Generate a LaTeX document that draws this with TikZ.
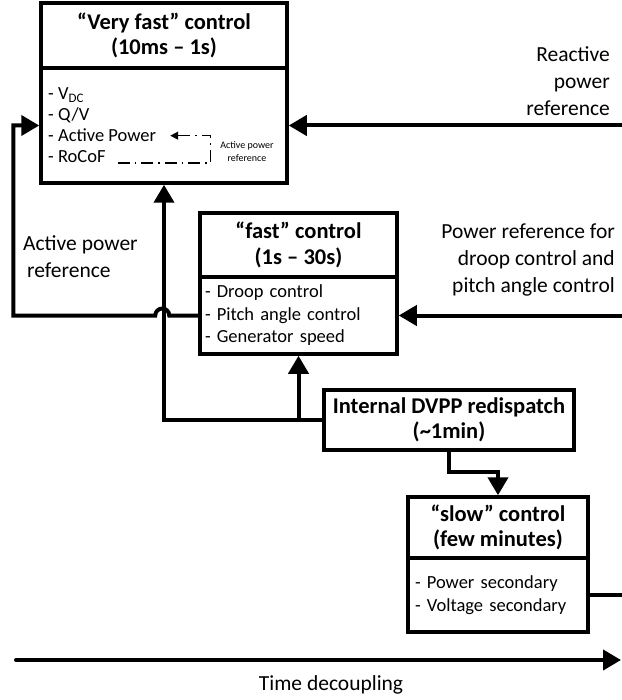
\documentclass[tikz,border=0pt]{standalone}
\usepackage{fontspec}
\setmainfont{Carlito}
\usetikzlibrary{arrows.meta,positioning}

\tikzstyle{boxframe} = [draw,line width=3.5pt,inner sep=0pt]
\tikzstyle{titlebox} = [boxframe,font=\fontsize{22.5}{25.5}\selectfont\bfseries,align=center]
\tikzstyle{listbox} = [boxframe,font=\fontsize{18.5}{22.5}\selectfont,align=left]
\tikzstyle{bullet} = [font=\fontsize{18.5}{22.5}\selectfont,inner sep=0pt,anchor=base west]
\tikzstyle{sidetext} = [font=\fontsize{21.5}{27}\selectfont,inner sep=0pt]
\tikzstyle{edge} = [draw,line width=4pt]
\tikzstyle{arrowdecorate} = [-{Triangle[length=18pt,width=20pt]},line width=4pt]
\tikzstyle{dashdecorate} = [-{Triangle[length=8pt,width=8pt]},line width=1.4pt,dash pattern=on 12pt off 5pt on 1.5pt off 5pt]

\begin{document}
\begin{tikzpicture}[x=1pt,y=-1pt]
      \useasboundingbox (0,0) rectangle (621,700);
      %boxes
      \node[titlebox, minimum width=246pt, minimum height=65pt] (vfTitle) at (164,35.5) {“Very fast” control\\(10ms – 1s)};
      \node[boxframe, minimum width=246pt, minimum height=115pt] (vfBody) at (164,125.5) {};
      \node[titlebox, minimum width=197pt, minimum height=64pt] (fastTitle) at (298.5,245) {“fast” control\\(1s – 30s)};
      \node[listbox, minimum height=77pt, inner xsep=5pt, text width=187pt] (fastBody) at (298.5,315.5) {- Droop control\\- Pitch angle control\\- Generator speed};
      \node[titlebox, minimum width=250pt, minimum height=60pt] (dvpp) at (449,420) {Internal DVPP redispatch\\(\char`\~1min)};
      \node[titlebox, minimum width=180pt, minimum height=61pt] (slowTitle) at (498,527.5) {“slow” control\\(few minutes)};
      \node[listbox, minimum height=74pt, inner xsep=7pt, text width=166pt] (slowBody) at (498,595) {- Power secondary\\- Voltage secondary};

      %very fast list
      \node[bullet] (vdc) at (48,100) {- V\textsubscript{DC}};
      \node[bullet] (qv) at (48,121) {- Q/V};
      \node[bullet] (ap) at (48,142) {- Active Power};
      \node[bullet] (rocof) at (48,163) {- RoCoF};
      \node[font=\fontsize{10}{13}\selectfont, align=center, inner sep=0pt] (apRef) at (247,152) {Active power\\reference};
      \draw[dashdecorate] ([xshift=12pt]rocof.base east) -- ++(93,0) |- ([xshift=14pt]ap.east);

      %side texts
      \node[sidetext, align=right, anchor=east] (reactRef) at (610,81.5) {Reactive\\power\\reference};
      \node[sidetext, align=right, anchor=east] (powerRef) at (615,260) {Power reference for\\droop control and\\pitch angle control};
      \node[sidetext, align=left, anchor=west] (activeRef) at (23,256.5) {Active power\\\hspace*{4pt}reference};
      \node[sidetext] (timeLbl) at (331,685) {Time decoupling};

      %free ends at the right rim
      \coordinate (rimReact) at (623,125.5);
      \coordinate (rimPower) at (623,315.5);
      \coordinate (rimSlow) at (623,595);
      \coordinate (timeStart) at (16,660);
      \coordinate (timeEnd) at (621,660);

      %edges
      \draw[arrowdecorate] (rimReact) -- (vfBody.east);
      \draw[arrowdecorate] (rimPower) -- (fastBody.east);
      \draw[edge] (slowBody.east) -- (rimSlow);
      \draw[arrowdecorate] (dvpp.west) -| (vfBody.south);
      \draw[arrowdecorate] (fastBody.south |- dvpp.west) -- (fastBody.south);
      \draw[arrowdecorate] (dvpp.south) -- ++(0,20) -| (slowTitle.north);
      \draw[arrowdecorate] (fastBody.west) -- ++(-29,0) arc[start angle=0, end angle=-180, radius=7] -- ++(-142,0) |- (vfBody.west);
      \draw[arrowdecorate, line cap=round] (timeStart) -- (timeEnd);
\end{tikzpicture}
\end{document}
